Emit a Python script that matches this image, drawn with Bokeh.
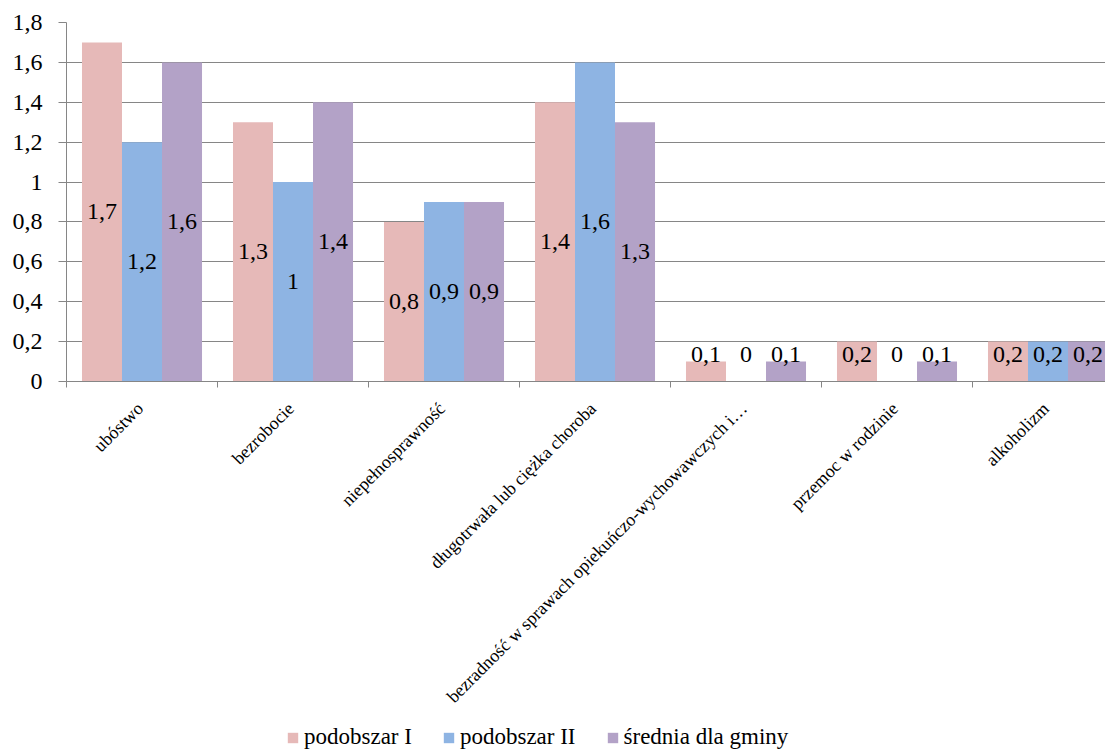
import math
from bokeh.plotting import figure
from bokeh.layouts import column
from bokeh.models import Range1d, FixedTicker, Legend, LegendItem, ColumnDataSource
from bokeh.core.properties import value
from bokeh.embed import file_html
from bokeh.resources import INLINE

categories = [
    "ubóstwo",
    "bezrobocie",
    "niepełnosprawność",
    "długotrwała lub ciężka choroba",
    "bezradność w sprawach opiekuńczo-wychowawczych i…",
    "przemoc w rodzinie",
    "alkoholizm",
]
podobszar_I = [1.7, 1.3, 0.8, 1.4, 0.1, 0.2, 0.2]
podobszar_II = [1.2, 1.0, 0.9, 1.6, 0.0, 0.0, 0.2]
srednia_gminy = [1.6, 1.4, 0.9, 1.3, 0.1, 0.1, 0.2]
series_names = ["podobszar I", "podobszar II", "średnia dla gminy"]
series_colors = ["#E6B9B8", "#8EB4E3", "#B3A2C7"]
y_ticks = [0, 0.2, 0.4, 0.6, 0.8, 1.0, 1.2, 1.4, 1.6, 1.8]
y_tick_labels = ["0", "0,2", "0,4", "0,6", "0,8", "1", "1,2", "1,4", "1,6", "1,8"]

FONT = "Liberation Serif"
GRID = "#868686"
BAR_W = 0.265
offsets = [-BAR_W, 0.0, BAR_W]
FRAME_W = 1039
LEFT = 66
TOP_H = 395      # chart figure: 22 top + 359 frame + 14 axis
BOT_H = 355      # strip for rotated names and legend

x_range = Range1d(0, FRAME_W / 151)

p = figure(width=LEFT + FRAME_W, height=TOP_H, x_range=x_range, y_range=Range1d(0, 1.8),
           output_backend="svg", toolbar_location=None,
           min_border_left=LEFT, min_border_right=0, min_border_top=22, min_border_bottom=14)
p.outline_line_color = None
p.background_fill_color = "white"
p.border_fill_color = "white"

for vals, color, off in zip([podobszar_I, podobszar_II, srednia_gminy], series_colors, offsets):
    xs = [i + 0.5 + off for i in range(len(categories))]
    src = ColumnDataSource(dict(
        x=xs, top=vals,
        ly=[max(v / 2, 0.135) for v in vals],
        lab=[f"{v:g}".replace(".", ",") for v in vals],
    ))
    p.vbar(x="x", top="top", bottom=0, width=BAR_W, source=src, fill_color=color, line_color=None)
    p.text(x="x", y="ly", text="lab", source=src, text_align="center", text_baseline="middle",
           text_font=value(FONT), text_font_size="24px", text_color="black")

# Y axis
p.yaxis.ticker = FixedTicker(ticks=y_ticks)
p.yaxis.major_label_overrides = {t: l for t, l in zip(y_ticks, y_tick_labels)}
p.yaxis.major_label_text_font = FONT
p.yaxis.major_label_text_font_size = "24px"
p.yaxis.major_label_text_color = "black"
p.yaxis.axis_line_color = GRID
p.yaxis.major_tick_line_color = GRID
p.yaxis.major_tick_out = 8
p.yaxis.major_tick_in = 0
p.yaxis.minor_tick_line_color = None
p.yaxis.major_label_standoff = 16

p.ygrid.ticker = FixedTicker(ticks=y_ticks)
p.ygrid.grid_line_color = GRID
p.xgrid.grid_line_color = None

# X axis: line + category boundary ticks (names are drawn in the strip below)
centers = [i + 0.5 for i in range(len(categories))]
p.xaxis.ticker = FixedTicker(ticks=centers, minor_ticks=list(range(len(categories) + 1)))
p.xaxis.major_label_overrides = {c: "" for c in centers}
p.xaxis.major_label_text_font_size = "1px"
p.xaxis.major_label_standoff = 0
p.xaxis.axis_line_color = GRID
p.xaxis.major_tick_line_color = None
p.xaxis.minor_tick_line_color = GRID
p.xaxis.minor_tick_out = 6
p.xaxis.minor_tick_in = 0

# Strip below: rotated category names and legend
q = figure(width=LEFT + FRAME_W, height=BOT_H, x_range=x_range, y_range=Range1d(0, BOT_H),
           output_backend="svg", toolbar_location=None, x_axis_type=None, y_axis_type=None,
           min_border_left=LEFT, min_border_right=0, min_border_top=0, min_border_bottom=0)
q.outline_line_color = None
q.grid.grid_line_color = None
q.background_fill_color = "white"
q.border_fill_color = "white"

LABEL_Y = BOT_H - 10
cat_src = ColumnDataSource(dict(x=centers, text=categories, zero=[0] * len(centers)))
q.text(x="x", y=LABEL_Y, text="text", source=cat_src, angle=math.pi / 4, x_offset=-2,
       text_align="right", text_baseline="middle",
       text_font=value(FONT), text_font_size="18px", text_color="black")

# zero-height bars only serve as legend swatches
items = []
for name, color in zip(series_names, series_colors):
    r = q.vbar(x="x", top="zero", bottom="zero", width=0.01, source=cat_src,
               fill_color=color, line_color=None)
    items.append(LegendItem(label=name, renderers=[r]))

legend = Legend(items=items, orientation="horizontal", location=(286 - LEFT, 0),
                label_text_font=FONT, label_text_font_size="23px", label_text_color="black",
                glyph_width=13, glyph_height=13, label_standoff=5, spacing=30,
                border_line_color=None, background_fill_alpha=0, margin=0, padding=0)
q.add_layout(legend, "center")

layout = column(p, q, spacing=0)
open("out.html", "w").write(file_html(layout, INLINE))
